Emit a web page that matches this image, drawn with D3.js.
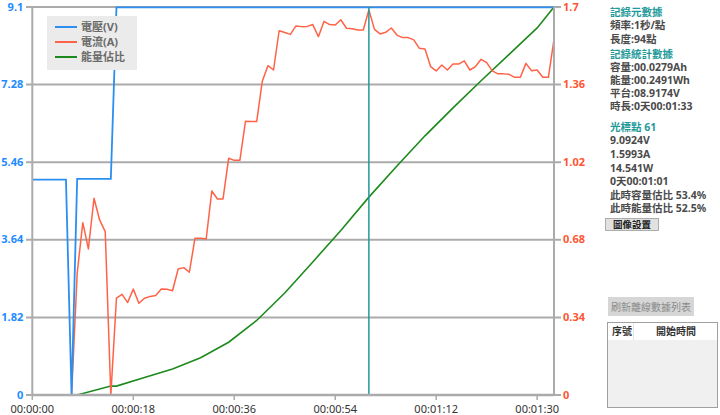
<!DOCTYPE html>
<html><head><meta charset="utf-8">
<script src="https://cdn.jsdelivr.net/npm/d3@7"></script>
<style>
html,body{margin:0;padding:0;background:#fff;}
svg{display:block;font-family:"Noto Sans","Noto Sans CJK TC",sans-serif;}
</style></head>
<body>
<svg id="c" width="720" height="415"></svg>
<script>
// ---- data ----
const times = d3.range(0, 94); // seconds, 1 point per second (94 points)
const voltage = [
 5.05,5.05,5.05,5.05,5.05,5.05,5.05,0,
 5.07,5.07,5.07,5.07,5.07,5.07,5.07,
 9.09,9.09,9.09,9.09,9.09,9.09,9.09,9.09,9.09,9.09,
 9.09,9.09,9.09,9.09,9.09,9.09,9.09,9.09,9.09,9.09,
 9.09,9.09,9.09,9.09,9.09,9.09,9.09,9.09,9.09,9.09,
 9.09,9.09,9.09,9.09,9.09,9.09,9.09,9.09,9.09,9.09,
 9.09,9.09,9.09,9.09,9.09,9.09,9.09,9.09,9.09,9.09,
 9.09,9.09,9.09,9.09,9.09,9.09,9.09,9.09,9.09,9.09,
 9.09,9.09,9.09,9.09,9.09,9.09,9.09,9.09,9.09,9.09,
 9.09,9.09,9.09,9.09,9.09,9.09,9.09,9.09,9.09
];
const current = [
 0,0,0,0,0,0,0,0,
 0.533,0.755,0.640,0.862,0.767,0.716,0,
 0.424,0.441,0.405,0.464,0.402,0.424,0.432,0.436,0.464,0.463,
 0.457,0.552,0.558,0.538,0.687,0.687,0.684,0.894,0.859,0.859,
 1.037,1.028,1.028,1.199,1.198,1.198,1.375,1.443,1.424,1.596,
 1.588,1.580,1.617,1.614,1.615,1.623,1.570,1.637,1.623,1.621,
 1.644,1.607,1.605,1.599,1.599,1.687,1.602,1.582,1.589,1.608,
 1.577,1.566,1.566,1.556,1.519,1.516,1.439,1.420,1.446,1.424,
 1.450,1.450,1.464,1.424,1.439,1.471,1.456,1.420,1.407,1.407,
 1.405,1.392,1.392,1.453,1.421,1.424,1.392,1.392,1.558
];
const energyTimes = [0,8,14,15,20,25,30,35,40,45,50,55,60,65,70,75,80,85,90,93];
const energyPct   = [0,0,2.3,2.3,4.5,6.7,9.6,13.6,19.2,26.3,34.3,42.4,51.0,59.0,66.8,74.0,81.0,87.8,94.6,100];
const cursorTime = 60;
const leftTicks  = [0,1.82,3.64,5.46,7.28,9.1];
const rightTicks = [0,0.34,0.68,1.02,1.36,1.7];
const xTicks     = [0,18,36,54,72,90];
const legendLabels = ["電壓(V)","電流(A)","能量佔比"];
const panelMeta  = ["頻率:1秒/點","長度:94點"];
const panelStats = ["容量:00.0279Ah","能量:00.2491Wh","平台:08.9174V","時長:0天00:01:33"];
const panelCursor= ["9.0924V","1.5993A","14.541W","0天00:01:01","此時容量估比 53.4%","此時能量估比 52.5%"];

// ---- styles ----
const C = {blue:"#2a8ff0", red:"#ff6347", green:"#1d8a1d", grid:"#ababab", teal:"#23979c",
           leftLbl:"#1e8cff", rightLbl:"#ff5533", panelHead:"#1f9a9a", panelTxt:"#4a4a4a"};

const svg = d3.select("#c");
const X0 = 32.3, X1 = 554, Y0 = 395, Y1 = 7;
const x  = d3.scaleLinear().domain([0,93]).range([X0,X1]);
const yL = d3.scaleLinear().domain([0,9.1]).range([Y0,Y1]);
const yR = d3.scaleLinear().domain([0,1.7]).range([Y0,Y1]);
const yP = d3.scaleLinear().domain([0,100]).range([Y0,Y1]);

// grid
svg.append("g").selectAll("line").data(leftTicks).join("line")
  .attr("x1",26).attr("x2",561).attr("y1",d=>yL(d)).attr("y2",d=>yL(d))
  .attr("stroke",C.grid).attr("stroke-width",2);

// series
const line = (xs, ys, sy) => d3.line().x((d,i)=>x(xs[i])).y((d,i)=>sy(ys[i]))(ys);
svg.append("path").attr("d", line(energyTimes, energyPct, yP)).attr("fill","none")
  .attr("stroke",C.green).attr("stroke-width",1.6);
svg.append("path").attr("d", line(times, current, yR)).attr("fill","none")
  .attr("stroke",C.red).attr("stroke-width",1.5).attr("stroke-linejoin","round");
svg.append("path").attr("d", line(times, voltage, yL)).attr("fill","none")
  .attr("stroke",C.blue).attr("stroke-width",1.8);

// cursor
svg.append("line").attr("x1",x(cursorTime)).attr("x2",x(cursorTime)).attr("y1",Y1).attr("y2",Y0)
  .attr("stroke",C.teal).attr("stroke-width",1.5);

// axes
const fmt = s => { const h=Math.floor(s/3600), m=Math.floor(s%3600/60), ss=s%60;
  return [h,m,ss].map(v=>String(v).padStart(2,"0")).join(":"); };
const gx = svg.append("g").attr("transform",`translate(0,${Y0})`)
  .call(d3.axisBottom(x).tickValues(xTicks).tickFormat(fmt).tickSize(5).tickPadding(5).tickSizeOuter(0).offset(0));
gx.select(".domain").attr("stroke",C.grid).attr("stroke-width",2.6);
gx.selectAll(".tick line").attr("stroke",C.grid).attr("stroke-width",1.5);
gx.selectAll("text").attr("fill","#333").attr("font-size",11).attr("font-family","'Noto Sans','DejaVu Sans',sans-serif");

const gl = svg.append("g").attr("transform",`translate(${X0},0)`)
  .call(d3.axisLeft(yL).tickValues(leftTicks).tickFormat(d=>String(d)).tickSize(0).tickPadding(9).offset(0));
gl.select(".domain").attr("stroke",C.grid).attr("stroke-width",2);
gl.selectAll("text").attr("fill",C.leftLbl).attr("font-size",11).attr("font-weight","bold")
  .attr("font-family","'Noto Sans','DejaVu Sans',sans-serif");

const gr = svg.append("g").attr("transform",`translate(${X1},0)`)
  .call(d3.axisRight(yR).tickValues(rightTicks).tickFormat(d=>String(d)).tickSize(0).tickPadding(9).offset(0));
gr.select(".domain").attr("stroke",C.grid).attr("stroke-width",2);
gr.selectAll("text").attr("fill",C.rightLbl).attr("font-size",11).attr("font-weight","bold")
  .attr("font-family","'Noto Sans','DejaVu Sans',sans-serif");

// legend
const lg = svg.append("g");
lg.append("rect").attr("x",47).attr("y",16).attr("width",90).attr("height",54).attr("fill","#ebebeb");
const lcol = [C.blue, C.red, C.green];
legendLabels.forEach((t,i)=>{
  const yy = 27 + i*15;
  lg.append("line").attr("x1",55).attr("x2",77).attr("y1",yy).attr("y2",yy)
    .attr("stroke",lcol[i]).attr("stroke-width",2);
  lg.append("text").attr("x",81).attr("y",yy+4).text(t)
    .attr("font-size",11).attr("font-weight","bold").attr("fill","#6a6a6a");
});

// right panel
const P = svg.append("g").attr("font-size",10.5);
const head = (t,y)=>P.append("text").attr("x",610).attr("y",y).text(t).attr("fill",C.panelHead).attr("font-weight","bold");
const txt  = (t,y)=>P.append("text").attr("x",610).attr("y",y).text(t).attr("fill",C.panelTxt).attr("font-weight","bold");
head("記錄元數據",16);
panelMeta.forEach((t,i)=>txt(t,[29,42.5][i]));
head("記錄統計數據",57.5);
panelStats.forEach((t,i)=>txt(t,[70.5,83.5,96.5,110][i]));
head("光標點 61",131);
panelCursor.forEach((t,i)=>txt(t,[144,158,172,185,199,212][i]));
P.append("rect").attr("x",605.5).attr("y",218.5).attr("width",53).attr("height",12)
  .attr("fill","#e1e1e1").attr("stroke","#adadad");
P.append("text").attr("x",632).attr("y",228).attr("text-anchor","middle").text("圖像設置")
  .attr("font-size",9.5).attr("font-weight","bold").attr("fill","#222");

P.append("rect").attr("x",608).attr("y",297).attr("width",86).attr("height",19).attr("fill","#d6d6d6");
P.append("text").attr("x",651).attr("y",310.5).attr("text-anchor","middle").text("刷新離線數據列表")
  .attr("font-size",10).attr("fill","#8a8a8a");

P.append("rect").attr("x",607.5).attr("y",322.5).attr("width",110).attr("height",85)
  .attr("fill","#f0f0f0").attr("stroke","#a0a0a0");
P.append("rect").attr("x",608).attr("y",323).attr("width",109).attr("height",17).attr("fill","#fff");
P.append("line").attr("x1",633.5).attr("x2",633.5).attr("y1",323).attr("y2",340).attr("stroke","#e4e4e4");
P.append("text").attr("x",612).attr("y",335).text("序號").attr("font-size",10).attr("font-weight","bold").attr("fill","#333");
P.append("text").attr("x",676).attr("y",335).attr("text-anchor","middle").text("開始時間").attr("font-size",10).attr("font-weight","bold").attr("fill","#333");
</script>
</body></html>
